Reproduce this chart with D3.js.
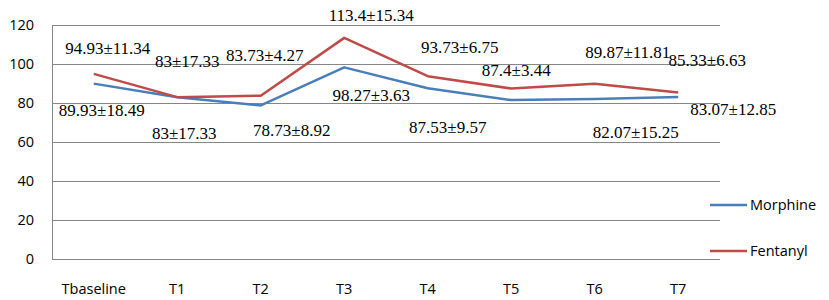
<!DOCTYPE html>
<html>
<head>
<meta charset="utf-8">
<script src="https://cdn.jsdelivr.net/npm/d3@7"></script>
<style>
  body { margin: 0; background: #fff; }
  svg { display: block; }
</style>
</head>
<body>
<div id="chart"></div>
<script>
const categories = ["Tbaseline", "T1", "T2", "T3", "T4", "T5", "T6", "T7"];
const morphine = [89.93, 83, 78.73, 98.27, 87.53, 81.5, 82.07, 83.07];
const morphineSd = [18.49, 17.33, 8.92, 3.63, 9.57, null, 15.25, 12.85];
const fentanyl = [94.93, 83, 83.73, 113.4, 93.73, 87.4, 89.87, 85.33];
const fentanylSd = [11.34, 17.33, 4.27, 15.34, 6.75, 3.44, 11.81, 6.63];
const yTicks = [0, 20, 40, 60, 80, 100, 120];

// label offsets (dx, dy from point), placed by hand like the original
const morphineLabelOff = [[8, 26], [7, 36], [31, 25], [27, 28], [20, 39], [0, 0], [41, 33], [55, 12]];
const fentanylLabelOff = [[14, -26], [10, -36], [4, -41], [27, -23], [32, -29], [5, -19], [33, -32], [29, -33]];

const serifFont = "'Liberation Serif', 'Times New Roman', serif";
const sansFont = "'Open Sans', sans-serif";

const width = 829, height = 300;
const margin = { top: 25, right: 109, bottom: 41, left: 52 };
const plotW = width - margin.left - margin.right;
const plotH = height - margin.top - margin.bottom;

const svg = d3.select("#chart").append("svg")
    .attr("width", width)
    .attr("height", height);

const x = d3.scaleBand().domain(categories).range([margin.left, margin.left + plotW]);
const y = d3.scaleLinear().domain([0, 120]).range([margin.top + plotH, margin.top]);

// gridlines
svg.append("g")
    .selectAll("line")
    .data(yTicks)
    .enter().append("line")
    .attr("x1", margin.left)
    .attr("x2", margin.left + plotW)
    .attr("y1", d => Math.round(y(d)) + 0.5)
    .attr("y2", d => Math.round(y(d)) + 0.5)
    .attr("stroke", "#868686")
    .attr("stroke-width", 1);

svg.append("line")
    .attr("x1", margin.left + 0.5).attr("x2", margin.left + 0.5)
    .attr("y1", y(120)).attr("y2", y(0) + 0.5)
    .attr("stroke", "#868686");

// y tick labels
svg.append("g")
    .selectAll("text")
    .data(yTicks)
    .enter().append("text")
    .attr("x", 34)
    .attr("y", d => y(d))
    .attr("dy", "0.35em")
    .attr("text-anchor", "end")
    .style("font-family", sansFont)
    .style("font-size", "14.5px")
    .attr("fill", "#000")
    .text(d => d);

// x labels
svg.append("g")
    .selectAll("text")
    .data(categories)
    .enter().append("text")
    .attr("x", d => x(d) + x.bandwidth() / 2)
    .attr("y", 289)
    .attr("dy", "0.35em")
    .attr("text-anchor", "middle")
    .style("font-family", sansFont)
    .style("font-size", "14.5px")
    .attr("fill", "#000")
    .text(d => d);

const cx = i => x(categories[i]) + x.bandwidth() / 2;

const series = [
    { name: "Morphine", values: morphine, sd: morphineSd, off: morphineLabelOff, color: "#4a7ebb" },
    { name: "Fentanyl", values: fentanyl, sd: fentanylSd, off: fentanylLabelOff, color: "#be4b48" }
];

const line = d3.line().x((d, i) => cx(i)).y(d => y(d));

series.forEach(s => {
    svg.append("path")
        .datum(s.values)
        .attr("d", line)
        .attr("fill", "none")
        .attr("stroke", s.color)
        .attr("stroke-width", 2.5)
        .attr("stroke-linejoin", "round");
});

// data labels
series.forEach(s => {
    const labels = s.values
        .map((v, i) => ({ v: v, sd: s.sd[i], i: i }))
        .filter(d => d.sd !== null);
    svg.append("g")
        .selectAll("text")
        .data(labels)
        .enter().append("text")
        .attr("x", d => cx(d.i) + s.off[d.i][0])
        .attr("y", d => y(d.v) + s.off[d.i][1])
        .attr("dy", "0.35em")
        .attr("text-anchor", "middle")
        .style("font-family", serifFont)
        .style("font-size", "17px")
        .attr("fill", "#000")
        .text(d => `${d.v}±${d.sd}`);
});

// legend
const legend = svg.append("g");
series.forEach((s, i) => {
    const ly = 205 + i * 46;
    legend.append("line")
        .attr("x1", 710).attr("x2", 747)
        .attr("y1", ly).attr("y2", ly)
        .attr("stroke", s.color)
        .attr("stroke-width", 2.5);
    legend.append("text")
        .attr("x", 750)
        .attr("y", ly)
        .attr("dy", "0.35em")
        .style("font-family", sansFont)
        .style("font-size", "14.5px")
        .attr("fill", "#000")
        .text(s.name);
});
</script>
</body>
</html>
